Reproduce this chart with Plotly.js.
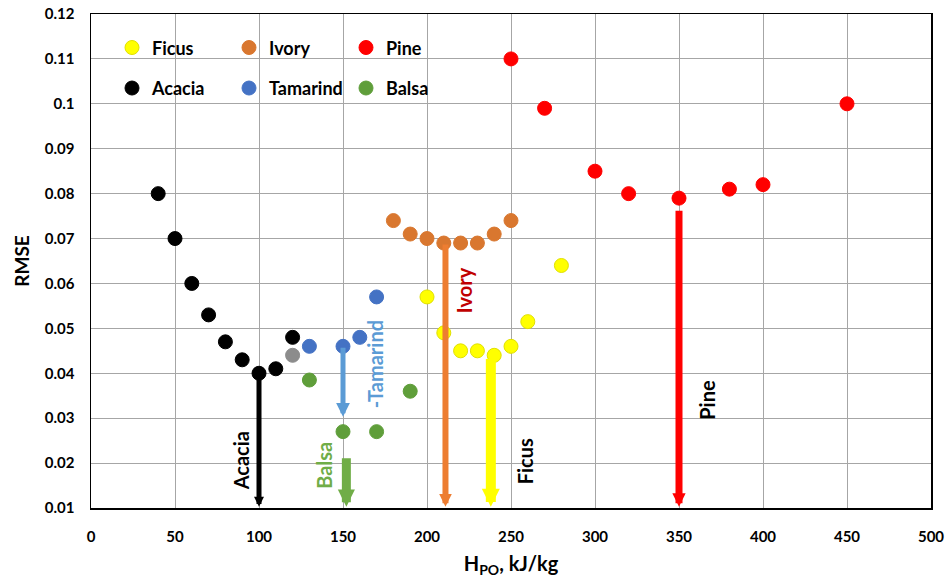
<!DOCTYPE html>
<html><head><meta charset="utf-8">
<script src="https://cdn.plot.ly/plotly-3.0.1.min.js"></script>
<style>html,body{margin:0;padding:0;background:#fff}</style>
</head><body><div id="chart" style="width:949px;height:581px"></div>
<script>
// ---- data ----
var ficusX = [200, 210, 220, 230, 240, 250, 260, 280];
var ficusY = [0.057, 0.049, 0.045, 0.045, 0.044, 0.046, 0.0515, 0.064];
var ivoryX = [180, 190, 200, 210, 220, 230, 240, 250];
var ivoryY = [0.074, 0.071, 0.070, 0.069, 0.069, 0.069, 0.071, 0.074];
var pineX = [250, 270, 300, 320, 350, 380, 400, 450];
var pineY = [0.110, 0.099, 0.085, 0.080, 0.079, 0.081, 0.082, 0.100];
var acaciaX = [40, 50, 60, 70, 80, 90, 100, 110, 120];
var acaciaY = [0.080, 0.070, 0.060, 0.053, 0.047, 0.043, 0.040, 0.041, 0.048];
var tamarindX = [130, 150, 160, 170];
var tamarindY = [0.046, 0.046, 0.048, 0.057];
var balsaX = [130, 150, 170, 190];
var balsaY = [0.0385, 0.027, 0.027, 0.036];
var greyX = [120];
var greyY = [0.044];

// arrows: x, tail (top) y, head (bottom) y
var arrowNames = ["Acacia", "Tamarind", "Balsa", "Ivory", "Ficus", "Pine"];
var arrowX = [100, 150, 152, 211, 238, 350];
var arrowTop = [0.040, 0.046, 0.0214, 0.069, 0.0435, 0.0765];
var arrowBottom = [0.0103, 0.0303, 0.0103, 0.0103, 0.0103, 0.0103];

// rotated labels
var labelText = ["Acacia", "Balsa", "-Tamarind", "Ivory", "Ficus", "Pine"];
var labelX = [89, 139, 169, 222, 258, 367];
var labelY = [0.0205, 0.0195, 0.042, 0.0585, 0.0205, 0.034];

var xTicks = [0, 50, 100, 150, 200, 250, 300, 350, 400, 450, 500];
var yTicks = [0.01, 0.02, 0.03, 0.04, 0.05, 0.06, 0.07, 0.08, 0.09, 0.1, 0.11, 0.12];
var yTickText = ["0.01", "0.02", "0.03", "0.04", "0.05", "0.06", "0.07", "0.08", "0.09", "0.1", "0.11", "0.12"];

// ---- styles ----
var FONT = "Lato, 'Open Sans', sans-serif";
var arrowColors = ["#000000", "#5b9bd5", "#70ad47", "#ed7d31", "#ffff00", "#ff0000"];
var arrowWidths = [5, 5, 9, 6, 10, 7];
var arrowSizes = [0.4, 0.55, 0.38, 0.42, 0.36, 0.38];
var labelColors = ["#000000", "#70ad47", "#5b9bd5", "#c00000", "#000000", "#000000"];

function tr(name, x, y, color, line, legend, show) {
  return {
    type: "scatter", mode: "markers", name: name, x: x, y: y,
    legend: legend, showlegend: show !== false,
    marker: {color: color, size: 14, line: {color: line, width: 1}},
    hoverinfo: "x+y"
  };
}

var data = [
  tr("Ficus", ficusX, ficusY, "#ffff00", "#e0e000", "legend"),
  tr("Ivory", ivoryX, ivoryY, "#d9772f", "#d9772f", "legend"),
  tr("Pine", pineX, pineY, "#ff0000", "#ff0000", "legend"),
  tr("Acacia", acaciaX, acaciaY, "#000000", "#000000", "legend2"),
  tr("Tamarind", tamarindX, tamarindY, "#4472c4", "#4472c4", "legend2"),
  tr("Balsa", balsaX, balsaY, "#5f9e3a", "#5f9e3a", "legend2"),
  tr("", greyX, greyY, "#8c8c8c", "#8c8c8c", "legend", false)
];

var annotations = [];
for (var i = 0; i < arrowX.length; i++) {
  annotations.push({
    x: arrowX[i], y: arrowBottom[i], ax: arrowX[i], ay: arrowTop[i],
    xref: "x", yref: "y", axref: "x", ayref: "y",
    text: "", showarrow: true, arrowhead: 2, arrowsize: arrowSizes[i],
    arrowwidth: arrowWidths[i], arrowcolor: arrowColors[i], standoff: 0, startstandoff: 0
  });
}
for (var j = 0; j < labelText.length; j++) {
  annotations.push({
    x: labelX[j], y: labelY[j], xref: "x", yref: "y", text: "<b>" + labelText[j] + "</b>",
    showarrow: false, textangle: -90,
    font: {family: FONT, size: 20, color: labelColors[j]}
  });
}

var axisCommon = {
  showline: true, linecolor: "#000000", linewidth: 1.5, mirror: true,
  showgrid: true, gridcolor: "#a6a6a6", gridwidth: 1, zeroline: false,
  ticks: "", tickfont: {family: FONT, size: 15, color: "#000000", weight: "bold"}
};

var layout = {
  width: 949, height: 581,
  margin: {l: 91, r: 18, t: 14, b: 73},
  paper_bgcolor: "#ffffff", plot_bgcolor: "#ffffff",
  font: {family: FONT},
  xaxis: Object.assign({}, axisCommon, {
    range: [0, 500], tickmode: "array", tickvals: xTicks, ticklabelstandoff: 14,
    title: {text: "<b>H<sub>PO</sub>, kJ/kg</b>", font: {family: FONT, size: 20, color: "#000000"}, standoff: 13}
  }),
  yaxis: Object.assign({}, axisCommon, {
    range: [0.01, 0.12], tickmode: "array", tickvals: yTicks, ticktext: yTickText, ticklabelstandoff: 12,
    title: {text: "<b>RMSE</b>", font: {family: FONT, size: 19, color: "#000000"}, standoff: 10}
  }),
  legend: {
    orientation: "h", x: 0.025, xanchor: "left", y: 0.969, yanchor: "top",
    entrywidth: 72, entrywidthmode: "pixels", bgcolor: "rgba(255,255,255,0)",
    font: {family: FONT, size: 18, color: "#000000", weight: "bold"}, itemclick: false
  },
  legend2: {
    orientation: "h", x: 0.025, xanchor: "left", y: 0.887, yanchor: "top",
    entrywidth: 72, entrywidthmode: "pixels", bgcolor: "rgba(255,255,255,0)",
    font: {family: FONT, size: 18, color: "#000000", weight: "bold"}, itemclick: false
  },
  annotations: annotations,
  showlegend: true
};

Plotly.newPlot("chart", data, layout, {displayModeBar: false, staticPlot: true});
</script>
</body></html>
